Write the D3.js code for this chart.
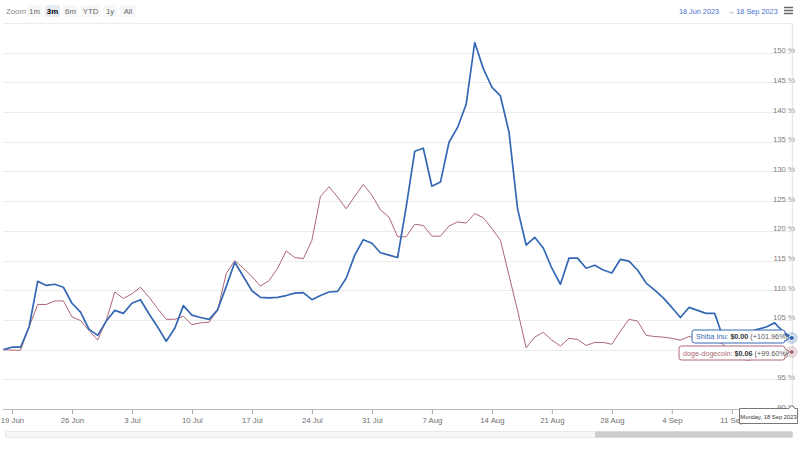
<!DOCTYPE html>
<html><head><meta charset="utf-8">
<script src="https://cdn.jsdelivr.net/npm/d3@7/dist/d3.min.js"></script>
<style>
html,body{margin:0;padding:0;background:#fff;}
svg{display:block;font-family:"Liberation Sans",Arial,Helvetica,sans-serif;}
</style></head>
<body>
<svg id="chart" width="800" height="450"></svg>
<script>
// ---- data ----
const startDate = "2023-06-18";
const endDate = "2023-09-18";
const seriesNames = ["Shiba Inu", "doge-dogecoin"];
const shibaValues = [100.0,100.4,100.4,103.8,111.5,110.8,111.0,110.5,107.8,106.3,103.4,102.4,104.8,106.6,106.1,107.8,108.4,106.0,103.8,101.4,103.6,107.4,105.8,105.4,105.1,106.7,110.6,114.7,112.3,109.9,108.8,108.7,108.8,109.1,109.5,109.6,108.4,109.1,109.7,109.8,112.0,115.9,118.5,117.9,116.3,115.9,115.5,124.0,133.4,133.9,127.5,128.2,134.9,137.4,141.3,151.7,147.3,144.2,142.7,136.6,123.7,117.6,118.9,117.1,113.7,111.0,115.4,115.4,113.7,114.2,113.4,112.9,115.2,114.9,113.4,111.2,110.0,108.7,107.1,105.4,107.1,106.6,106.1,106.1,101.9,102.2,102.4,102.9,103.4,103.8,104.5,103.0,101.96];
const dogeValues = [100.0,99.9,99.9,103.8,107.6,107.6,108.2,108.2,105.5,104.9,103.2,101.6,104.9,109.7,108.6,109.4,110.5,108.8,106.9,105.1,105.1,105.6,104.2,104.5,104.6,106.6,112.8,115.0,113.7,112.3,110.7,111.6,113.7,116.6,115.5,115.3,118.4,125.8,127.4,125.7,123.7,125.8,127.8,126.0,123.5,122.3,119.0,119.0,121.1,120.9,119.1,119.1,120.8,121.5,121.3,122.9,122.2,120.4,118.4,112.5,106.6,100.3,102.1,102.9,101.6,100.6,101.9,101.7,100.7,101.2,101.2,100.9,103.1,105.1,104.8,102.4,102.2,102.1,101.9,101.6,102.2,101.9,101.7,101.6,100.9,99.4,98.4,98.2,98.9,99.4,99.7,100.0,99.60];
const lastPrices = ["$0.00", "$0.06"];
const lastChanges = ["(+101.96%)", "(+99.60%)"];
const gridTicks = [90,95,100,105,110,115,120,125,130,135,140,145,150,155];
const yLabelTicks = [90,95,105,110,115,120,125,130,135,140,145,150]; // 100 % is hidden under the tooltips
const zoomButtons = ["1m","3m","6m","YTD","1y","All"];
const selectedButton = "3m";
const rangeFrom = "18 Jun 2023";
const rangeTo = "18 Sep 2023";
const hoverLabel = "Monday, 18 Sep 2023";

// ---- setup ----
const svg = d3.select("#chart");
const plot = {left: 3.4, right: 791.8, top: 22.9, bottom: 409};
const parse = d3.utcParse("%Y-%m-%d");
const d0 = parse(startDate), d1 = parse(endDate);
const dates = d3.utcDay.range(d0, d3.utcDay.offset(d1, 1));
const colors = ["#3568b4", "#ad6872"];

const x = d3.scaleUtc().domain([d0, d1]).range([plot.left, plot.right]);
const y = d3.scaleLinear().domain([90, 155]).range([plot.bottom, plot.top]);

// gridlines
svg.append("g").selectAll("line").data(gridTicks).join("line")
  .attr("x1", 3).attr("x2", 793)
  .attr("y1", d => Math.round(y(d)) + 0.5).attr("y2", d => Math.round(y(d)) + 0.5)
  .attr("stroke", "#ececec").attr("stroke-width", 1);

// y labels (right, inside)
svg.append("g").selectAll("text").data(yLabelTicks).join("text")
  .attr("x", 795).attr("y", d => y(d) + 0.5)
  .attr("text-anchor", "end").attr("font-size", 7.8).attr("fill", "#808080")
  .text(d => d + " %");

// crosshair
svg.append("line").attr("x1", x(d1) + 0.5).attr("x2", x(d1) + 0.5)
  .attr("y1", plot.top).attr("y2", plot.bottom)
  .attr("stroke", "#e0e0e0").attr("stroke-width", 1);

// x axis
const mondays = d3.utcMonday.range(d0, d1);
const xAxis = d3.axisBottom(x).tickValues(mondays).tickFormat(d3.utcFormat("%-d %b")).tickSize(5).tickPadding(3);
const gx = svg.append("g").attr("transform", `translate(0,${plot.bottom})`).call(xAxis);
gx.select(".domain").attr("d", `M3,0.5H793`).attr("stroke", "#bbb");
gx.selectAll(".tick line").attr("stroke", "#aaa");
gx.selectAll(".tick text").attr("font-size", 7.8).attr("fill", "#707070").attr("font-family", "Liberation Sans, Arial, sans-serif");

// lines
const line = d3.line().x((d, i) => x(dates[i])).y(d => y(d));
svg.append("path").datum(dogeValues).attr("d", line)
  .attr("fill", "none").attr("stroke", colors[1]).attr("stroke-width", 1).attr("stroke-linejoin", "round");
svg.append("path").datum(shibaValues).attr("d", line)
  .attr("fill", "none").attr("stroke", colors[0]).attr("stroke-width", 1.7).attr("stroke-linejoin", "round");

// hover markers
const lastIdx = dates.length - 1;
[shibaValues, dogeValues].forEach((vals, k) => {
  const cx = x(dates[lastIdx]), cy = y(vals[lastIdx]);
  svg.append("circle").attr("cx", cx).attr("cy", cy).attr("r", 6).attr("fill", colors[k]).attr("opacity", 0.25);
  svg.append("circle").attr("cx", cx).attr("cy", cy).attr("r", 2.6).attr("fill", colors[k]).attr("stroke", "#fff").attr("stroke-width", 1);
});

// tooltips (split)
function tooltip(k, boxRight, boxTop, boxW, boxH) {
  const px = x(dates[lastIdx]);
  const py = y([shibaValues, dogeValues][k][lastIdx]);
  const g = svg.append("g");
  const l = boxRight - boxW, t = boxTop, r = boxRight, b = boxTop + boxH, rr = 2.5;
  const midY = Math.max(t + 3, Math.min(b - 3, py));
  const path = `M${l+rr},${t} H${r-rr} Q${r},${t} ${r},${t+rr} V${midY-3} L${px-2},${py} L${r},${midY+3} V${b-rr} Q${r},${b} ${r-rr},${b} H${l+rr} Q${l},${b} ${l},${b-rr} V${t+rr} Q${l},${t} ${l+rr},${t} Z`;
  g.append("path").attr("d", path).attr("fill", "rgba(255,255,255,0.96)")
    .attr("stroke", colors[k]).attr("stroke-width", 1);
  const tx = g.append("text").attr("x", l + 4).attr("y", t + boxH / 2 + 2.6).attr("font-size", 7.2).attr("fill", "#333");
  tx.append("tspan").attr("fill", colors[k]).text(seriesNames[k] + ": ");
  tx.append("tspan").attr("font-weight", "bold").text(lastPrices[k]);
  tx.append("tspan").attr("fill", "#555").text(" " + lastChanges[k]);
}
tooltip(0, 785, 330, 93, 13);
tooltip(1, 785, 346, 106, 14);

// bottom date label
(function(){
  const px = x(dates[lastIdx]);
  const g = svg.append("g");
  const l = 739.5, t = 408.5, r = 797.5, b = 423.5;
  g.append("path").attr("d", `M${l},${t} H${px-3} L${px},${t-3} L${px+3},${t} H${r} V${b} H${l} Z`)
    .attr("fill", "#fff").attr("stroke", "#555").attr("stroke-width", 0.8);
  g.append("text").attr("x", (l + r) / 2).attr("y", t + 10).attr("text-anchor", "middle")
    .attr("font-size", 5.8).attr("fill", "#333").text(hoverLabel);
})();

// navigator scrollbar
svg.append("rect").attr("x", 5.5).attr("y", 431.5).attr("width", 787).attr("height", 6)
  .attr("rx", 1).attr("fill", "#f7f7f7").attr("stroke", "#e8e8e8");
svg.append("rect").attr("x", 595).attr("y", 431.5).attr("width", 197.5).attr("height", 6)
  .attr("rx", 1).attr("fill", "#cccccc");

// zoom buttons
svg.append("text").attr("x", 6).attr("y", 14).attr("font-size", 7.8).attr("fill", "#888").text("Zoom");
const btnX = [27, 45, 63, 81, 103, 120];
const btnW = [15, 15, 15, 19, 14, 16];
zoomButtons.forEach((b, i) => {
  const sel = b === selectedButton;
  svg.append("rect").attr("x", btnX[i]).attr("y", 5).attr("width", btnW[i]).attr("height", 12).attr("rx", 2)
    .attr("fill", sel ? "#e6ebf5" : "#f7f7f7");
  svg.append("text").attr("x", btnX[i] + btnW[i] / 2).attr("y", 14).attr("text-anchor", "middle")
    .attr("font-size", 7.8).attr("font-weight", sel ? "bold" : "normal").attr("fill", sel ? "#000" : "#666").text(b);
});

// date range
svg.append("text").attr("x", 699).attr("y", 14).attr("text-anchor", "middle").attr("font-size", 7.3).attr("fill", "#4a6fd0").text(rangeFrom);
svg.append("text").attr("x", 731).attr("y", 14).attr("text-anchor", "middle").attr("font-size", 7.3).attr("fill", "#666").text("\u2192");
svg.append("text").attr("x", 757).attr("y", 14).attr("text-anchor", "middle").attr("font-size", 7.3).attr("fill", "#4a6fd0").text(rangeTo);

// hamburger menu
[7.5, 10.5, 13.5].forEach(yy => {
  svg.append("line").attr("x1", 784).attr("x2", 793).attr("y1", yy).attr("y2", yy).attr("stroke", "#666").attr("stroke-width", 1.5);
});
</script>
</body></html>
